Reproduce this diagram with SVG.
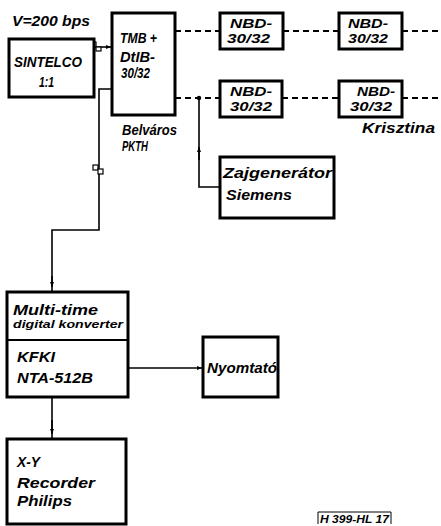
<svg xmlns="http://www.w3.org/2000/svg" width="441" height="526" viewBox="0 0 441 526">
<defs>
<style>
.box{fill:#fff;stroke:#000;stroke-width:3}
.ln{fill:none;stroke:#000;stroke-width:1.6}
.dash{fill:none;stroke:#000;stroke-width:2;stroke-dasharray:6 4}
.sq{fill:#fff;stroke:#000;stroke-width:1.2}
text{font-family:"Liberation Sans",Arial,sans-serif;font-style:italic;font-weight:bold;font-size:14px;fill:#000}
.sm{font-size:11px}
.nb{font-size:13px}
</style>
<marker id="ah" viewBox="0 0 10 10" refX="10" refY="5" markerWidth="5" markerHeight="5" orient="auto" markerUnits="userSpaceOnUse">
<path d="M0,1 L10,5 L0,9 Z" fill="#000"/>
</marker>
</defs>
<rect width="441" height="526" fill="#fff"/>
<g id="connectors">
<path class="dash" d="M175,31 H220 M283,31 H339 M402,31 H441"/>
<path class="dash" d="M175,98 H220 M282,98 H339 M402,98 H441"/>
<path class="ln" d="M94,47 H111" marker-end="url(#ah)"/>
<rect class="sq" x="91" y="42" width="5" height="5"/>
<rect class="sq" x="96" y="47" width="5" height="4"/>
<path class="ln" d="M112,89 H99 V230 H52 V292"/>
<path class="ln" d="M52,276 V287" marker-end="url(#ah)"/>
<rect class="sq" x="93" y="165" width="5" height="5"/>
<rect class="sq" x="98" y="169" width="5" height="5"/>
<circle cx="199" cy="98" r="2.2" fill="#000"/>
<path class="ln" d="M199,98 V187 H220"/>
<path class="ln" d="M199,160 V147" marker-end="url(#ah)"/>
<path class="ln" d="M128,368 H202" marker-end="url(#ah)"/>
<path class="ln" d="M52,397 V439"/>
<path class="ln" d="M52,420 V434" marker-end="url(#ah)"/>
</g>
<text x="12" y="26" textLength="78" lengthAdjust="spacingAndGlyphs">V=200 bps</text>
<g id="sintelco">
<rect class="box" x="9" y="39" width="85" height="58"/>
<text x="14" y="67" textLength="68" lengthAdjust="spacingAndGlyphs">SINTELCO</text>
<text x="39" y="87" textLength="15" lengthAdjust="spacingAndGlyphs">1:1</text>
</g>
<g id="tmb">
<rect class="box" x="112" y="13" width="63" height="102"/>
<text x="120" y="43" textLength="37" lengthAdjust="spacingAndGlyphs">TMB +</text>
<text x="120" y="62" textLength="35" lengthAdjust="spacingAndGlyphs">DtIB-</text>
<text x="121" y="78" textLength="29" lengthAdjust="spacingAndGlyphs">30/32</text>
<text x="122" y="135" textLength="55" lengthAdjust="spacingAndGlyphs">Belváros</text>
<text x="122" y="151" textLength="26" lengthAdjust="spacingAndGlyphs">PKTH</text>
</g>
<g id="nbd1">
<rect class="box" x="220" y="13" width="63" height="36"/>
<text class="nb" x="230" y="28" textLength="42" lengthAdjust="spacingAndGlyphs">NBD-</text>
<text class="nb" x="227" y="43" textLength="43" lengthAdjust="spacingAndGlyphs">30/32</text>
</g>
<g id="nbd2">
<rect class="box" x="339" y="13" width="63" height="36"/>
<text class="nb" x="348" y="28" textLength="40" lengthAdjust="spacingAndGlyphs">NBD-</text>
<text class="nb" x="348" y="43" textLength="40" lengthAdjust="spacingAndGlyphs">30/32</text>
</g>
<g id="nbd3">
<rect class="box" x="220" y="81" width="62" height="36"/>
<text class="nb" x="230" y="96" textLength="42" lengthAdjust="spacingAndGlyphs">NBD-</text>
<text class="nb" x="230" y="111" textLength="42" lengthAdjust="spacingAndGlyphs">30/32</text>
</g>
<g id="nbd4">
<rect class="box" x="339" y="81" width="63" height="36"/>
<text class="nb" x="357" y="96" textLength="38" lengthAdjust="spacingAndGlyphs">NBD-</text>
<text class="nb" x="350" y="111" textLength="42" lengthAdjust="spacingAndGlyphs">30/32</text>
<text x="362" y="133" textLength="73" lengthAdjust="spacingAndGlyphs" font-weight="normal">Krisztina</text>
</g>
<g id="zajgenerator">
<rect class="box" x="220" y="157" width="114" height="61"/>
<text x="223" y="178" textLength="109" lengthAdjust="spacingAndGlyphs">Zajgenerátor</text>
<text x="226" y="200" textLength="66" lengthAdjust="spacingAndGlyphs">Siemens</text>
</g>
<g id="multitime">
<rect class="box" x="7" y="292" width="121" height="105"/>
<line x1="7" y1="340" x2="128" y2="340" stroke="#000" stroke-width="2"/>
<text x="13" y="315" textLength="85" lengthAdjust="spacingAndGlyphs">Multi-time</text>
<text class="sm" x="13" y="328" textLength="110" lengthAdjust="spacingAndGlyphs">digital konverter</text>
<text x="17" y="362" textLength="38" lengthAdjust="spacingAndGlyphs">KFKI</text>
<text x="17" y="383" textLength="76" lengthAdjust="spacingAndGlyphs">NTA-512B</text>
</g>
<g id="nyomtato">
<rect class="box" x="203" y="337" width="75" height="60"/>
<text x="207" y="373" textLength="70" lengthAdjust="spacingAndGlyphs">Nyomtató</text>
</g>
<g id="xyrecorder">
<rect class="box" x="7" y="439" width="119" height="85"/>
<text x="17" y="467" textLength="23" lengthAdjust="spacingAndGlyphs">X-Y</text>
<text x="17" y="488" textLength="78" lengthAdjust="spacingAndGlyphs">Recorder</text>
<text x="17" y="506" textLength="55" lengthAdjust="spacingAndGlyphs">Philips</text>
</g>
<g id="label">
<path d="M318,524 V512 H391 V524" fill="none" stroke="#000" stroke-width="1"/>
<text class="sm" x="320" y="523" textLength="69" lengthAdjust="spacingAndGlyphs" font-size="10">H 399-HL 17</text>
</g>
</svg>
